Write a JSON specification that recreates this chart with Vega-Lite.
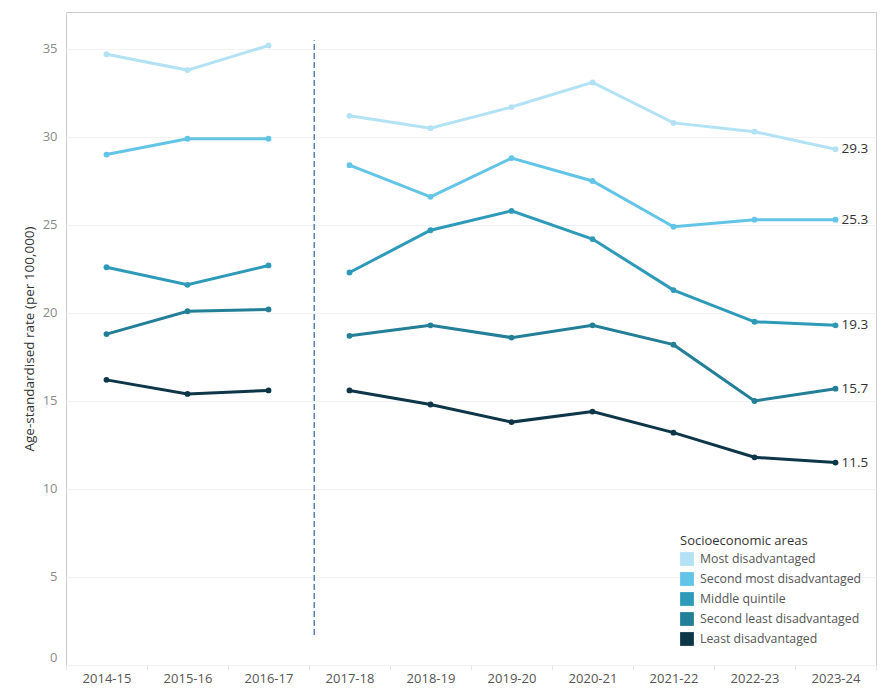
{
  "$schema": "https://vega.github.io/schema/vega-lite/v6.json",
  "autosize": "none",
  "width": 810,
  "height": 653,
  "padding": {"left": 66, "top": 12, "right": 14, "bottom": 35},
  "background": "white",
  "config": {
    "font": "Open Sans",
    "view": {"stroke": "#cccccc", "strokeWidth": 1}
  },
  "datasets": {
    "rates": [
      {"year": "2014-15", "area": "Most disadvantaged", "period": "A", "rate": 34.7},
      {"year": "2015-16", "area": "Most disadvantaged", "period": "A", "rate": 33.8},
      {"year": "2016-17", "area": "Most disadvantaged", "period": "A", "rate": 35.2},
      {"year": "2017-18", "area": "Most disadvantaged", "period": "B", "rate": 31.2},
      {"year": "2018-19", "area": "Most disadvantaged", "period": "B", "rate": 30.5},
      {"year": "2019-20", "area": "Most disadvantaged", "period": "B", "rate": 31.7},
      {"year": "2020-21", "area": "Most disadvantaged", "period": "B", "rate": 33.1},
      {"year": "2021-22", "area": "Most disadvantaged", "period": "B", "rate": 30.8},
      {"year": "2022-23", "area": "Most disadvantaged", "period": "B", "rate": 30.3},
      {"year": "2023-24", "area": "Most disadvantaged", "period": "B", "rate": 29.3},
      {"year": "2014-15", "area": "Second most disadvantaged", "period": "A", "rate": 29.0},
      {"year": "2015-16", "area": "Second most disadvantaged", "period": "A", "rate": 29.9},
      {"year": "2016-17", "area": "Second most disadvantaged", "period": "A", "rate": 29.9},
      {"year": "2017-18", "area": "Second most disadvantaged", "period": "B", "rate": 28.4},
      {"year": "2018-19", "area": "Second most disadvantaged", "period": "B", "rate": 26.6},
      {"year": "2019-20", "area": "Second most disadvantaged", "period": "B", "rate": 28.8},
      {"year": "2020-21", "area": "Second most disadvantaged", "period": "B", "rate": 27.5},
      {"year": "2021-22", "area": "Second most disadvantaged", "period": "B", "rate": 24.9},
      {"year": "2022-23", "area": "Second most disadvantaged", "period": "B", "rate": 25.3},
      {"year": "2023-24", "area": "Second most disadvantaged", "period": "B", "rate": 25.3},
      {"year": "2014-15", "area": "Middle quintile", "period": "A", "rate": 22.6},
      {"year": "2015-16", "area": "Middle quintile", "period": "A", "rate": 21.6},
      {"year": "2016-17", "area": "Middle quintile", "period": "A", "rate": 22.7},
      {"year": "2017-18", "area": "Middle quintile", "period": "B", "rate": 22.3},
      {"year": "2018-19", "area": "Middle quintile", "period": "B", "rate": 24.7},
      {"year": "2019-20", "area": "Middle quintile", "period": "B", "rate": 25.8},
      {"year": "2020-21", "area": "Middle quintile", "period": "B", "rate": 24.2},
      {"year": "2021-22", "area": "Middle quintile", "period": "B", "rate": 21.3},
      {"year": "2022-23", "area": "Middle quintile", "period": "B", "rate": 19.5},
      {"year": "2023-24", "area": "Middle quintile", "period": "B", "rate": 19.3},
      {"year": "2014-15", "area": "Second least disadvantaged", "period": "A", "rate": 18.8},
      {"year": "2015-16", "area": "Second least disadvantaged", "period": "A", "rate": 20.1},
      {"year": "2016-17", "area": "Second least disadvantaged", "period": "A", "rate": 20.2},
      {"year": "2017-18", "area": "Second least disadvantaged", "period": "B", "rate": 18.7},
      {"year": "2018-19", "area": "Second least disadvantaged", "period": "B", "rate": 19.3},
      {"year": "2019-20", "area": "Second least disadvantaged", "period": "B", "rate": 18.6},
      {"year": "2020-21", "area": "Second least disadvantaged", "period": "B", "rate": 19.3},
      {"year": "2021-22", "area": "Second least disadvantaged", "period": "B", "rate": 18.2},
      {"year": "2022-23", "area": "Second least disadvantaged", "period": "B", "rate": 15.0},
      {"year": "2023-24", "area": "Second least disadvantaged", "period": "B", "rate": 15.7},
      {"year": "2014-15", "area": "Least disadvantaged", "period": "A", "rate": 16.2},
      {"year": "2015-16", "area": "Least disadvantaged", "period": "A", "rate": 15.4},
      {"year": "2016-17", "area": "Least disadvantaged", "period": "A", "rate": 15.6},
      {"year": "2017-18", "area": "Least disadvantaged", "period": "B", "rate": 15.6},
      {"year": "2018-19", "area": "Least disadvantaged", "period": "B", "rate": 14.8},
      {"year": "2019-20", "area": "Least disadvantaged", "period": "B", "rate": 13.8},
      {"year": "2020-21", "area": "Least disadvantaged", "period": "B", "rate": 14.4},
      {"year": "2021-22", "area": "Least disadvantaged", "period": "B", "rate": 13.2},
      {"year": "2022-23", "area": "Least disadvantaged", "period": "B", "rate": 11.8},
      {"year": "2023-24", "area": "Least disadvantaged", "period": "B", "rate": 11.5}
    ],
    "divider": [
      {"year": "2017-18", "low": 1.7, "high": 35.5}
    ]
  },
  "layer": [
    {
      "data": {"name": "divider"},
      "mark": {"type": "rule", "strokeDash": [6, 3], "strokeWidth": 1.5},
      "encoding": {
        "x": {"field": "year", "type": "nominal", "bandPosition": 0.065},
        "y": {"field": "low", "type": "quantitative"},
        "y2": {"field": "high"},
        "color": {"value": "#5b7fb0"}
      }
    },
    {
      "data": {"name": "rates"},
      "mark": {"type": "line", "strokeWidth": 3},
      "encoding": {
        "x": {"field": "year", "type": "nominal"},
        "y": {"field": "rate", "type": "quantitative"},
        "detail": {"field": "period"}
      }
    },
    {
      "data": {"name": "rates"},
      "mark": {"type": "point", "filled": true, "opacity": 1, "size": 34},
      "encoding": {
        "x": {"field": "year", "type": "nominal"},
        "y": {"field": "rate", "type": "quantitative"}
      }
    },
    {
      "data": {"name": "rates"},
      "transform": [{"filter": "datum.year === '2023-24'"}],
      "mark": {"type": "text", "align": "left", "baseline": "middle", "dx": 6, "fontSize": 13.5, "font": "Open Sans"},
      "encoding": {
        "x": {"field": "year", "type": "nominal"},
        "y": {"field": "rate", "type": "quantitative"},
        "text": {"field": "rate", "type": "quantitative", "format": ".1f"},
        "color": {"value": "#333333"}
      }
    }
  ],
  "resolve": {"scale": {"x": "shared", "y": "shared", "color": "shared"}},
  "encoding": {
    "x": {
      "field": "year",
      "type": "nominal",
      "scale": {"type": "band", "paddingInner": 0, "paddingOuter": 0},
      "axis": {
        "title": null,
        "labelAngle": 0,
        "labelFont": "Open Sans",
        "labelFontSize": 13,
        "labelColor": "#555555",
        "labelPadding": 2,
        "domain": false,
        "ticks": true,
        "tickBand": "extent",
        "tickColor": "#e6e6e6",
        "tickSize": 5,
        "grid": false
      }
    },
    "y": {
      "field": "rate",
      "type": "quantitative",
      "scale": {"domain": [0, 37.1], "nice": false},
      "axis": {
        "title": "Age-standardised rate (per 100,000)",
        "titleFont": "Open Sans",
        "titleFontSize": 13.5,
        "titleFontWeight": 500,
        "titleColor": "#333333",
        "titlePadding": 6,
        "values": [0, 5, 10, 15, 20, 25, 30, 35],
        "labelFont": "Open Sans",
        "labelFontSize": 13,
        "labelColor": "#8a8a8a",
        "labelPadding": 9,
        "labelOffset": {"condition": {"test": "datum.value === 0", "value": -8}, "value": 0},
        "domain": false,
        "ticks": false,
        "grid": true,
        "gridColor": "#f3f3f3"
      }
    },
    "color": {
      "field": "area",
      "type": "nominal",
      "scale": {
        "domain": ["Most disadvantaged", "Second most disadvantaged", "Middle quintile", "Second least disadvantaged", "Least disadvantaged"],
        "range": ["#b3e2f5", "#62c4e6", "#2e9ab9", "#237f97", "#0d3648"]
      },
      "legend": {
        "orient": "none",
        "legendX": 614,
        "legendY": 523,
        "title": "Socioeconomic areas",
        "titleFont": "Open Sans",
        "titleFontSize": 13,
        "titleFontWeight": "normal",
        "titleColor": "#333333",
        "titlePadding": 4,
        "labelFont": "Open Sans",
        "labelFontSize": 12.3,
        "labelColor": "#555555",
        "labelLimit": 300,
        "symbolType": "square",
        "symbolSize": 190,
        "symbolStrokeWidth": 0,
        "rowPadding": 6,
        "labelOffset": 6
      }
    }
  }
}
